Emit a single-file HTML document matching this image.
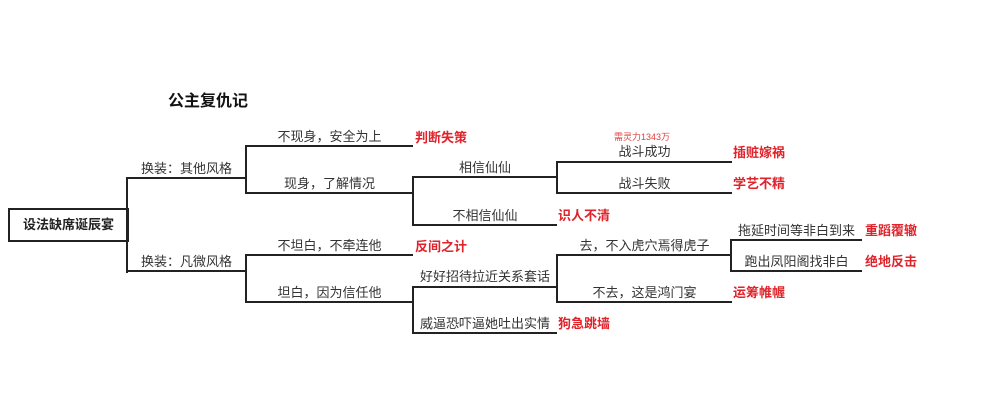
<!DOCTYPE html>
<html><head><meta charset="utf-8"><style>
body{margin:0;width:1000px;height:400px;background:#fff;position:relative;overflow:hidden;font-family:"Liberation Sans","Noto Sans CJK SC",sans-serif;}
.h{position:absolute;height:2px;background:#222}
.v{position:absolute;width:2px;background:#222}
.t{position:absolute;font-size:13px;color:#333;text-align:center;white-space:nowrap;line-height:16px}
.r{position:absolute;font-size:13px;color:#e0222a;font-weight:bold;white-space:nowrap;line-height:16px}
</style></head><body>
<div style="position:absolute;left:168px;top:87px;font-size:16px;font-weight:bold;color:#111">公主复仇记</div>
<div style="position:absolute;left:8px;top:208px;width:117px;height:30px;border:2px solid #222;font-size:13px;font-weight:bold;line-height:30px;text-align:center;color:#222">设法缺席诞辰宴</div>
<div class="v" style="left:126px;top:177px;height:96px"></div>
<div class="h" style="left:126px;top:177px;width:121px"></div>
<div class="h" style="left:126px;top:270px;width:121px"></div>
<div class="t" style="left:127px;top:161px;width:119px">换装：其他风格</div>
<div class="t" style="left:127px;top:254px;width:119px">换装：凡微风格</div>
<div class="v" style="left:245px;top:145px;height:49px"></div>
<div class="h" style="left:245px;top:145px;width:168px"></div>
<div class="h" style="left:245px;top:192px;width:168px"></div>
<div class="t" style="left:246px;top:129px;width:167px">不现身，安全为上</div>
<div class="r" style="left:415px;top:130px">判断失策</div>
<div class="t" style="left:246px;top:176px;width:167px">现身，了解情况</div>
<div class="v" style="left:412px;top:176px;height:50px"></div>
<div class="h" style="left:412px;top:176px;width:145px"></div>
<div class="h" style="left:412px;top:224px;width:145px"></div>
<div class="t" style="left:413px;top:160px;width:144px">相信仙仙</div>
<div class="t" style="left:413px;top:208px;width:144px">不相信仙仙</div>
<div class="r" style="left:558px;top:208px">识人不清</div>
<div class="v" style="left:556px;top:161px;height:33px"></div>
<div class="h" style="left:556px;top:161px;width:176px"></div>
<div class="h" style="left:556px;top:192px;width:176px"></div>
<div style="position:absolute;left:614px;top:130px;font-size:9px;color:#e04040">需灵力1343万</div>
<div class="t" style="left:557px;top:144px;width:175px">战斗成功</div>
<div class="t" style="left:557px;top:176px;width:175px">战斗失败</div>
<div class="r" style="left:733px;top:145px">插赃嫁祸</div>
<div class="r" style="left:733px;top:176px">学艺不精</div>
<div class="v" style="left:245px;top:254px;height:49px"></div>
<div class="h" style="left:245px;top:254px;width:168px"></div>
<div class="h" style="left:245px;top:301px;width:168px"></div>
<div class="t" style="left:246px;top:238px;width:167px">不坦白，不牵连他</div>
<div class="r" style="left:415px;top:239px">反间之计</div>
<div class="t" style="left:246px;top:285px;width:167px">坦白，因为信任他</div>
<div class="v" style="left:412px;top:286px;height:48px"></div>
<div class="h" style="left:412px;top:286px;width:145px"></div>
<div class="h" style="left:412px;top:332px;width:145px"></div>
<div class="t" style="left:413px;top:269px;width:144px">好好招待拉近关系套话</div>
<div class="t" style="left:413px;top:316px;width:144px">威逼恐吓逼她吐出实情</div>
<div class="r" style="left:558px;top:316px">狗急跳墙</div>
<div class="v" style="left:556px;top:254px;height:49px"></div>
<div class="h" style="left:556px;top:254px;width:176px"></div>
<div class="h" style="left:556px;top:301px;width:176px"></div>
<div class="t" style="left:557px;top:238px;width:175px">去，不入虎穴焉得虎子</div>
<div class="t" style="left:557px;top:285px;width:175px">不去，这是鸿门宴</div>
<div class="r" style="left:733px;top:285px">运筹帷幄</div>
<div class="v" style="left:730px;top:239px;height:33px"></div>
<div class="h" style="left:730px;top:239px;width:132px"></div>
<div class="h" style="left:730px;top:270px;width:132px"></div>
<div class="t" style="left:731px;top:223px;width:131px">拖延时间等非白到来</div>
<div class="t" style="left:731px;top:254px;width:131px">跑出凤阳阁找非白</div>
<div class="r" style="left:865px;top:223px">重蹈覆辙</div>
<div class="r" style="left:865px;top:254px">绝地反击</div>
</body></html>
